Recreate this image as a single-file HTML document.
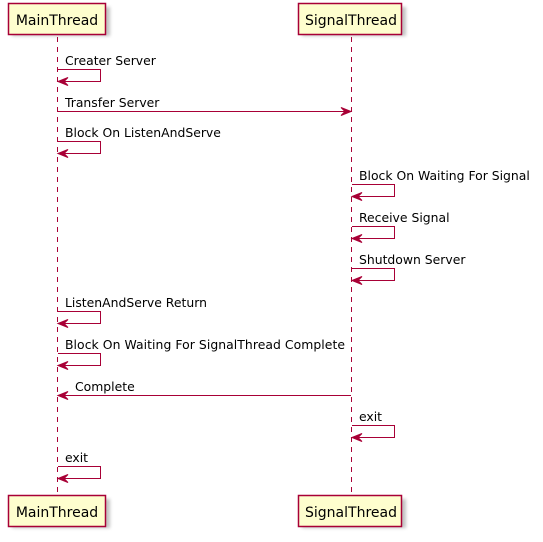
<!DOCTYPE html>
<html><head><style>
html,body{margin:0;padding:0;background:#fff;}
svg text{font-family:"DejaVu Sans","Liberation Sans",sans-serif;fill:#000;}
</style></head><body>
<svg width="543" height="537" xmlns="http://www.w3.org/2000/svg">
<defs>
<filter id="sh" x="-20%" y="-20%" width="150%" height="160%"><feGaussianBlur stdDeviation="1.6"/></filter>
</defs>
<g stroke="#A80036" stroke-width="1" stroke-dasharray="5,5">
<line x1="57.5" y1="37" x2="57.5" y2="496"/>
<line x1="351.5" y1="37" x2="351.5" y2="496"/>
</g>
<g>
<rect x="12" y="7" width="98" height="29" fill="#888" opacity="0.5" filter="url(#sh)"/>
<rect x="8.5" y="3.5" width="97" height="31" fill="#FEFECE" stroke="#A80036" stroke-width="1.5"/>
<text x="57" y="25" font-size="14" text-anchor="middle">MainThread</text>
<rect x="302" y="7" width="104" height="29" fill="#888" opacity="0.5" filter="url(#sh)"/>
<rect x="298.5" y="3.5" width="103" height="31" fill="#FEFECE" stroke="#A80036" stroke-width="1.5"/>
<text x="351" y="25" font-size="14" text-anchor="middle">SignalThread</text>
<rect x="12" y="499" width="98" height="29" fill="#888" opacity="0.5" filter="url(#sh)"/>
<rect x="8.5" y="495.5" width="97" height="31" fill="#FEFECE" stroke="#A80036" stroke-width="1.5"/>
<text x="57" y="517" font-size="14" text-anchor="middle">MainThread</text>
<rect x="302" y="499" width="104" height="29" fill="#888" opacity="0.5" filter="url(#sh)"/>
<rect x="298.5" y="495.5" width="103" height="31" fill="#FEFECE" stroke="#A80036" stroke-width="1.5"/>
<text x="351" y="517" font-size="14" text-anchor="middle">SignalThread</text>
</g>
<g stroke="#A80036" fill="none">
<polyline points="58,69.5 100.5,69.5 100.5,81.5 58,81.5"/>
<polyline points="58,141.5 100.5,141.5 100.5,153.5 58,153.5"/>
<polyline points="58,311.5 100.5,311.5 100.5,323.5 58,323.5"/>
<polyline points="58,353.5 100.5,353.5 100.5,365.5 58,365.5"/>
<polyline points="58,466.5 100.5,466.5 100.5,478.5 58,478.5"/>
<polyline points="352,184.5 394.5,184.5 394.5,196.5 352,196.5"/>
<polyline points="352,226.5 394.5,226.5 394.5,238.5 352,238.5"/>
<polyline points="352,268.5 394.5,268.5 394.5,280.5 352,280.5"/>
<polyline points="352,425.5 394.5,425.5 394.5,437.5 352,437.5"/>
<line x1="58" y1="111.5" x2="350" y2="111.5"/>
<line x1="59" y1="395.5" x2="351" y2="395.5"/>
</g>
<g fill="#A80036" stroke="#A80036">
<polygon points="58,81.5 68,77.5 64,81.5 68,85.5"/>
<polygon points="58,153.5 68,149.5 64,153.5 68,157.5"/>
<polygon points="58,323.5 68,319.5 64,323.5 68,327.5"/>
<polygon points="58,365.5 68,361.5 64,365.5 68,369.5"/>
<polygon points="58,478.5 68,474.5 64,478.5 68,482.5"/>
<polygon points="352,196.5 362,192.5 358,196.5 362,200.5"/>
<polygon points="352,238.5 362,234.5 358,238.5 362,242.5"/>
<polygon points="352,280.5 362,276.5 358,280.5 362,284.5"/>
<polygon points="352,437.5 362,433.5 358,437.5 362,441.5"/>
<polygon points="351,111.5 341,107.5 345,111.5 341,115.5"/>
<polygon points="58,395.5 68,391.5 64,395.5 68,399.5"/>
</g>
<g font-size="12.4">
<text x="65" y="65">Creater Server</text>
<text x="65" y="107">Transfer Server</text>
<text x="65" y="137">Block On ListenAndServe</text>
<text x="359" y="180">Block On Waiting For Signal</text>
<text x="359" y="222">Receive Signal</text>
<text x="359" y="264">Shutdown Server</text>
<text x="65" y="307">ListenAndServe Return</text>
<text x="65" y="349" textLength="280">Block On Waiting For SignalThread Complete</text>
<text x="75" y="391">Complete</text>
<text x="359" y="421">exit</text>
<text x="65" y="462">exit</text>
</g>
</svg>
</body></html>
